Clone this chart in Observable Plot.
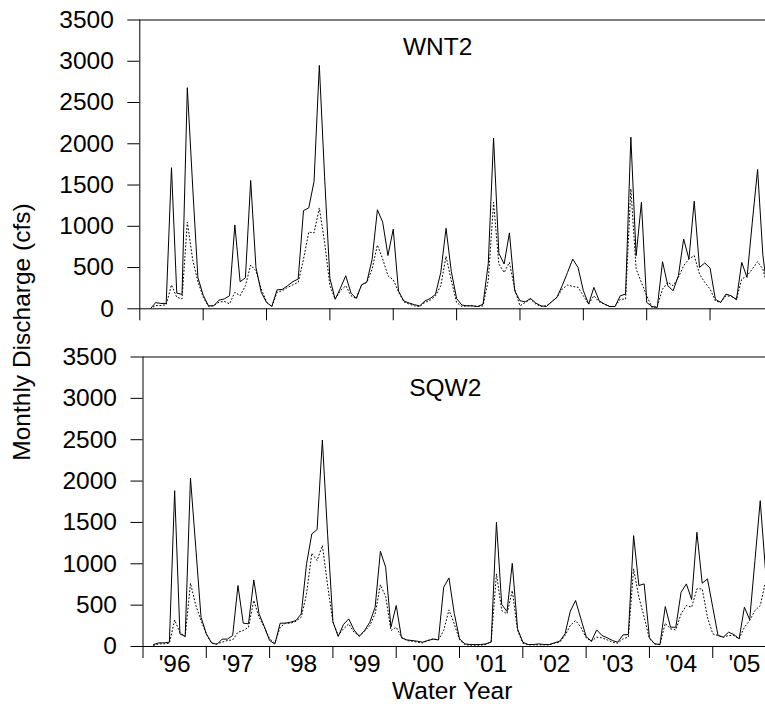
<!DOCTYPE html>
<html><head><meta charset="utf-8">
<script src="https://cdn.jsdelivr.net/npm/d3@7"></script>
<script src="https://cdn.jsdelivr.net/npm/@observablehq/plot@0.6"></script>
<style>
body{margin:0;background:#fff;}
#wrap{position:relative;width:765px;height:706px;font-family:"Liberation Sans",Arial,sans-serif;color:#000;}
#top{position:absolute;left:0;top:0;}
#bot{position:absolute;left:0;top:330px;}
#ylab{position:absolute;left:22px;top:332px;transform:translate(-50%,-50%) rotate(-90deg);white-space:nowrap;font-size:24.5px;line-height:1;}
</style></head><body>
<div id="wrap"><div id="top"></div><div id="bot"></div><div id="ylab"></div></div>
<script>
// Month index 0 = October 1995 (start of water year 1996); series start at month 2
const startMonth = 2;
const yearTicks = [0, 12, 24, 36, 48, 60, 72, 84, 96, 108];
const yearLabelPos = [6, 18, 30, 42, 54, 66, 78, 90, 102, 114];
const yearLabels = ["'96", "'97", "'98", "'99", "'00", "'01", "'02", "'03", "'04", "'05"];
const yTicks = [0, 500, 1000, 1500, 2000, 2500, 3000, 3500];
const yTitle = "Monthly Discharge (cfs)";
const xTitle = "Water Year";

// WNT2 (top panel)
const wnt2Solid = [
  0, 75, 65, 65, 1710, 190, 175, 2680, 1500, 380, 165, 36,
  36, 105, 120, 158, 1016, 328, 375, 1555, 500, 200, 77, 28,
  230, 235, 280, 330, 360, 1190, 1223, 1543, 2950, 1600, 370, 115,
  250, 400, 190, 125, 290, 325, 600, 1200, 1050, 645, 965, 215,
  95, 70, 50, 35, 95, 125, 175, 440, 975, 450, 125, 45,
  36, 36, 28, 55, 550, 2070, 672, 543, 920, 219, 97, 85,
  125, 70, 36, 28, 85, 138, 280, 440, 603, 500, 220, 57,
  260, 97, 57, 28, 28, 158, 178, 2080, 644, 1292, 77, 28,
  16, 571, 280, 219, 400, 846, 603, 1304, 502, 555, 494, 117,
  77, 178, 158, 109, 563, 380, 1049, 1689, 650, 150
];
const wnt2Dotted = [
  0, 40, 40, 50, 290, 140, 120, 1050, 600, 330, 140, 30,
  40, 80, 90, 60, 200, 160, 280, 530, 460, 240, 85, 28,
  200, 220, 260, 290, 320, 600, 930, 920, 1220, 806, 280, 117,
  220, 280, 158, 125, 288, 320, 482, 773, 603, 400, 352, 206,
  85, 57, 36, 28, 77, 105, 158, 280, 636, 340, 77, 28,
  36, 36, 28, 36, 350, 1290, 543, 440, 563, 240, 36, 77,
  117, 57, 28, 36, 85, 138, 240, 288, 270, 260, 158, 57,
  158, 85, 57, 28, 28, 117, 117, 1454, 482, 320, 158, 16,
  28, 240, 320, 280, 380, 522, 603, 644, 420, 320, 240, 97,
  77, 158, 150, 117, 360, 400, 482, 571, 482, 240
];
// SQW2 (bottom panel)
const sqw2Solid = [
  24, 44, 44, 52, 1884, 153, 121, 2037, 1200, 354, 153, 44,
  25, 89, 89, 133, 737, 282, 274, 805, 395, 240, 72, 30,
  282, 282, 294, 314, 395, 998, 1361, 1413, 2496, 1350, 300, 121,
  266, 334, 201, 121, 193, 294, 475, 1151, 958, 233, 495, 105,
  80, 72, 64, 52, 72, 89, 80, 717, 829, 400, 93, 32,
  24, 24, 24, 32, 52, 1502, 507, 423, 1006, 213, 52, 24,
  24, 32, 24, 24, 44, 64, 153, 427, 556, 334, 121, 64,
  201, 133, 105, 72, 52, 141, 145, 1341, 737, 757, 105, 32,
  24, 483, 233, 233, 656, 757, 568, 1381, 765, 817, 475, 133,
  113, 173, 145, 93, 475, 326, 1039, 1763, 918
];
const sqw2Dotted = [
  12, 32, 32, 40, 320, 170, 121, 765, 500, 314, 153, 40,
  32, 52, 72, 80, 173, 193, 233, 556, 354, 233, 93, 40,
  233, 282, 282, 306, 354, 636, 1127, 1039, 1220, 737, 294, 133,
  213, 274, 173, 133, 185, 254, 395, 745, 604, 193, 233, 113,
  72, 64, 52, 44, 72, 93, 80, 193, 443, 274, 80, 24,
  16, 16, 16, 24, 64, 878, 435, 395, 676, 193, 40, 20,
  20, 20, 20, 20, 40, 52, 133, 254, 314, 233, 105, 64,
  113, 105, 80, 52, 40, 93, 113, 938, 596, 354, 93, 32,
  24, 282, 213, 201, 395, 495, 475, 697, 697, 354, 153, 133,
  113, 133, 133, 93, 233, 314, 435, 495, 777
];

const FONT = "Liberation Sans, Arial, Helvetica, sans-serif";
const FS = 24.5;

function rows(arr) { return arr.map((v, i) => ({m: startMonth + i, v})); }

function panel(o) {
  const marks = [
    Plot.ruleY([yTicks[yTicks.length - 1]], {stroke: "black", strokeWidth: 1}),
    Plot.ruleY([0], {stroke: "black", strokeWidth: 1}),
    Plot.ruleX([0], {stroke: "black", strokeWidth: 1}),
    Plot.axisY(yTicks, {tickSize: 12, tickPadding: 14, tickFormat: d => String(d), label: null, fontSize: FS, strokeWidth: 1}),
    Plot.axisX(yearTicks, {tickSize: 12, tickFormat: () => "", label: null, strokeWidth: 1}),
    Plot.line(rows(o.solid), {x: "m", y: "v", stroke: "black", strokeWidth: 1, clip: true}),
    Plot.line(rows(o.dotted), {x: "m", y: "v", stroke: "black", strokeWidth: 1, strokeDasharray: "1,2.5", clip: true}),
    Plot.text([o.name], {frameAnchor: "top", dx: o.nameDx, dy: o.nameDy, lineAnchor: "top", fontSize: FS, fill: "black"})
  ];
  if (o.labels) {
    marks.push(Plot.axisX(yearLabelPos, {tickSize: 0, tickPadding: 8.5, label: null, fontSize: FS,
      tickFormat: d => yearLabels[yearLabelPos.indexOf(d)]}));
    marks.push(Plot.text([xTitle], {frameAnchor: "bottom", dy: 35, dx: -2, lineAnchor: "top", fontSize: FS, fill: "black"}));
  }
  return Plot.plot({
    width: 765, height: o.height,
    marginTop: o.mt, marginBottom: o.mb, marginLeft: o.ml, marginRight: 0,
    x: {domain: [0, o.xMax]},
    y: {domain: [0, 3500]},
    style: {fontFamily: FONT, fontSize: FS + "px", color: "black", background: "transparent", overflow: "visible"},
    marks
  });
}

document.getElementById("top").appendChild(panel({
  name: "WNT2", solid: wnt2Solid, dotted: wnt2Dotted,
  height: 330, mt: 19.5, mb: 21.7, ml: 139.3, xMax: 118.5,
  nameDx: -15, nameDy: 18, labels: false
}));
document.getElementById("bot").appendChild(panel({
  name: "SQW2", solid: sqw2Solid, dotted: sqw2Dotted,
  height: 376, mt: 26.5, mb: 60, ml: 142.5, xMax: 118,
  nameDx: -9, nameDy: 21.5, labels: true
}));
document.getElementById("ylab").textContent = yTitle;
</script>
</body></html>
